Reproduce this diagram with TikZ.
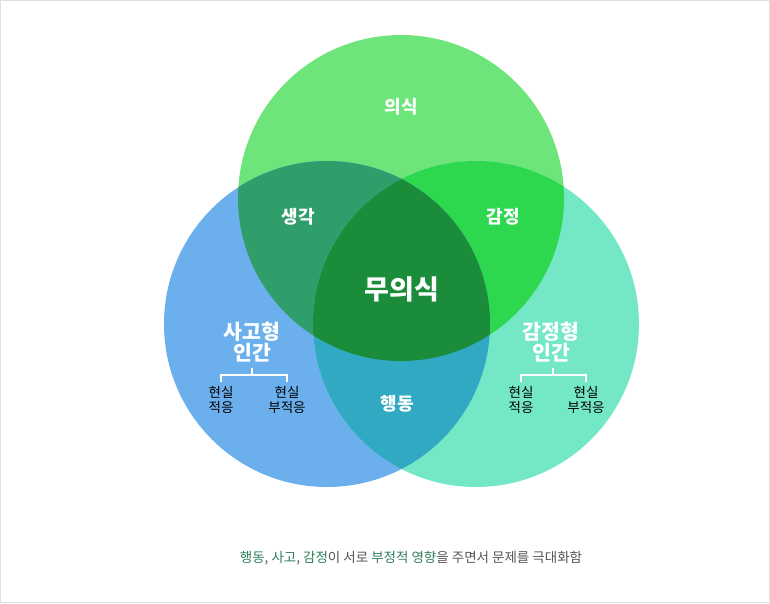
\documentclass[tikz,border=0pt]{standalone}
\usepackage{fontspec}
\setmainfont{Noto Sans CJK KR}
\newfontfamily\kr{Noto Sans CJK KR}
\definecolor{cG}{HTML}{6EE57A}
\definecolor{cB}{HTML}{6BB0EC}
\definecolor{cT}{HTML}{74E8C6}
\definecolor{cGB}{HTML}{2F9E6A}
\definecolor{cGT}{HTML}{2ED84E}
\definecolor{cBT}{HTML}{31A9C3}
\definecolor{cC}{HTML}{1B8C3A}
\definecolor{capG}{HTML}{2E7D5B}
\definecolor{capK}{HTML}{555555}
\definecolor{frame}{HTML}{E0E0E0}
\begin{document}
\begin{tikzpicture}[x=1pt,y=-1pt,
  wlab/.style={text=white,font=\kr\bfseries\fontsize{18}{20}\selectfont,inner sep=0pt,align=center},
  blab/.style={text=black,font=\kr\fontsize{13.5}{14.5}\selectfont,inner sep=0pt,align=center},
  brk/.style={draw=white,line width=1.5pt}]
\useasboundingbox (0,0) rectangle (770,603);
\draw[frame,line width=1pt] (0.5,0.5) rectangle (769.5,602.5);
\def\gc{(401,198) circle (163)}
\def\bc{(327,324) circle (163)}
\def\tc{(476,324) circle (163)}
\fill[cG] \gc;
\fill[cB] \bc;
\fill[cT] \tc;
\begin{scope}\clip \gc; \fill[cGB] \bc; \end{scope}
\begin{scope}\clip \gc; \fill[cGT] \tc; \end{scope}
\begin{scope}\clip \bc; \fill[cBT] \tc; \end{scope}
\begin{scope}\clip \gc; \clip \bc; \fill[cC] \tc; \end{scope}
\node[wlab] (uisik) at (401,107) {의식};
\node[wlab] (saenggak) at (298,217) {생각};
\node[wlab] (gamjeong) at (503,217) {감정};
\node[wlab,font=\kr\bfseries\fontsize{27}{29}\selectfont] (muuisik) at (402,289) {무의식};
\node[wlab] (haengdong) at (397,404) {행동};
\node[wlab,font=\kr\bfseries\fontsize{20.5}{21}\selectfont] (sago) at (252,342) {사고형\\인간};
\node[wlab,font=\kr\bfseries\fontsize{20.5}{21}\selectfont] (gamhyeong) at (551,342) {감정형\\인간};
% left bracket
\coordinate (lt) at (252,368);
\coordinate (lm) at (252,375);
\coordinate (la) at (221,375);
\coordinate (lb) at (287,375);
\coordinate (la2) at (221,382);
\coordinate (lb2) at (287,382);
\draw[brk] (lt) -- (lm);
\draw[brk] (la2) -- (la) -- (lb) -- (lb2);
\node[blab] (l1) at (221,400) {현실\\적응};
\node[blab] (l2) at (287,400) {현실\\부적응};
% right bracket
\coordinate (rt) at (553,368);
\coordinate (rm) at (553,375);
\coordinate (ra) at (521,375);
\coordinate (rb) at (586,375);
\coordinate (ra2) at (521,382);
\coordinate (rb2) at (586,382);
\draw[brk] (rt) -- (rm);
\draw[brk] (ra2) -- (ra) -- (rb) -- (rb2);
\node[blab] (r1) at (521,400) {현실\\적응};
\node[blab] (r2) at (586,400) {현실\\부적응};
\node[inner sep=0pt,font=\kr\fontsize{13.5}{15}\selectfont,text=capK] (cap) at (411,558)
 {\textcolor{capG}{행동}, \textcolor{capG}{사고}, \textcolor{capG}{감정}이 서로 \textcolor{capG}{부정적 영향}을 주면서 문제를 극대화함};
\end{tikzpicture}
\end{document}
